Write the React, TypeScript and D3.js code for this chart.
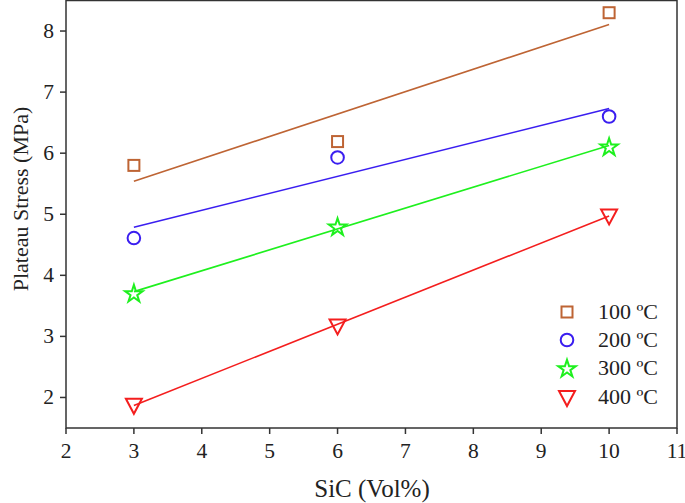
import React from "react";
import * as d3 from "d3";

const sic = [3, 6, 10];
const s100 = [5.8, 6.19, 8.3];
const s200 = [4.61, 5.93, 6.6];
const s300 = [3.71, 4.8, 6.11];
const s400 = [1.88, 3.18, 4.98];
const seriesNames = ["100 ºC", "200 ºC", "300 ºC", "400 ºC"];
const xTicks = [2, 3, 4, 5, 6, 7, 8, 9, 10, 11];
const yTicks = [2, 3, 4, 5, 6, 7, 8];

const colors = ["#BE6434", "#3A1EF0", "#1EF01E", "#F41E1E"];
const symbols = ["square", "circle", "star", "tri"];

function fit(xs: number[], ys: number[]) {
  const mx = d3.mean(xs)!;
  const my = d3.mean(ys)!;
  let sxy = 0, sxx = 0;
  xs.forEach((x, i) => { sxy += (x - mx) * (ys[i] - my); sxx += (x - mx) ** 2; });
  const b = sxy / sxx;
  return (x: number) => my + b * (x - mx);
}

function Marker({ kind, x, y, color }: { kind: string; x: number; y: number; color: string }) {
  const sw = 2;
  if (kind === "square") return <rect x={x - 5.5} y={y - 5.5} width={11} height={11} fill="none" stroke={color} strokeWidth={sw} />;
  if (kind === "circle") return <circle cx={x} cy={y} r={6.3} fill="none" stroke={color} strokeWidth={sw} />;
  if (kind === "star") {
    const p = d3.symbol().type(d3.symbolStar).size(95)();
    return <path d={p!} transform={`translate(${x},${y + 1})`} fill="none" stroke={color} strokeWidth={sw} />;
  }
  const p = `M${x - 8},${y - 6}L${x + 8},${y - 6}L${x},${y + 9}Z`;
  return <path d={p} fill="none" stroke={color} strokeWidth={sw} strokeLinejoin="miter" />;
}

export default function App() {
  const W = 685, H = 503;
  const L = 66, R = 677, T = 0.5, B = 428;
  const x = d3.scaleLinear().domain([2, 11]).range([L, R]);
  const y = d3.scaleLinear().domain([1.5, 8.5]).range([B, T]);
  const data = [s100, s200, s300, s400];
  const font = "'Liberation Serif', 'Times New Roman', serif";
  const axisColor = "#333";
  const legY = [312, 340, 368, 397];
  return (
    <svg width={W} height={H} style={{ position: "absolute", left: 0, top: 0, background: "#fff" }} fontFamily={font}>
      <rect x={0} y={0} width={W} height={H} fill="#fff" />
      {data.map((ys, i) => {
        const f = fit(sic, ys);
        return (
          <g key={i}>
            <line x1={x(3)} y1={y(f(3))} x2={x(10)} y2={y(f(10))} stroke={colors[i]} strokeWidth={1.6} />
            {ys.map((v, j) => <Marker key={j} kind={symbols[i]} x={x(sic[j])} y={y(v)} color={colors[i]} />)}
          </g>
        );
      })}
      <rect x={L} y={T} width={R - L} height={B - T} fill="none" stroke={axisColor} strokeWidth={1.5} />
      {xTicks.map(t => (
        <g key={t}>
          <line x1={x(t)} x2={x(t)} y1={B} y2={B + 6} stroke={axisColor} strokeWidth={1.5} />
          <text x={x(t)} y={457.5} textAnchor="middle" fontSize={21.5} fill="#222">{t}</text>
        </g>
      ))}
      {yTicks.map(t => (
        <g key={t}>
          <line x1={L - 6} x2={L} y1={y(t)} y2={y(t)} stroke={axisColor} strokeWidth={1.5} />
          <text x={54} y={y(t) + 7} textAnchor="end" fontSize={21.5} fill="#222">{t}</text>
        </g>
      ))}
      <text x={372} y={497} textAnchor="middle" fontSize={25} fill="#222">SiC (Vol%)</text>
      <text transform={`translate(28,199) rotate(-90)`} textAnchor="middle" fontSize={22} fill="#222">Plateau Stress (MPa)</text>
      {seriesNames.map((n, i) => (
        <g key={n}>
          <Marker kind={symbols[i]} x={567} y={legY[i]} color={colors[i]} />
          <text x={598} y={legY[i] + 7} fontSize={22} fill="#222">{n}</text>
        </g>
      ))}
    </svg>
  );
}
